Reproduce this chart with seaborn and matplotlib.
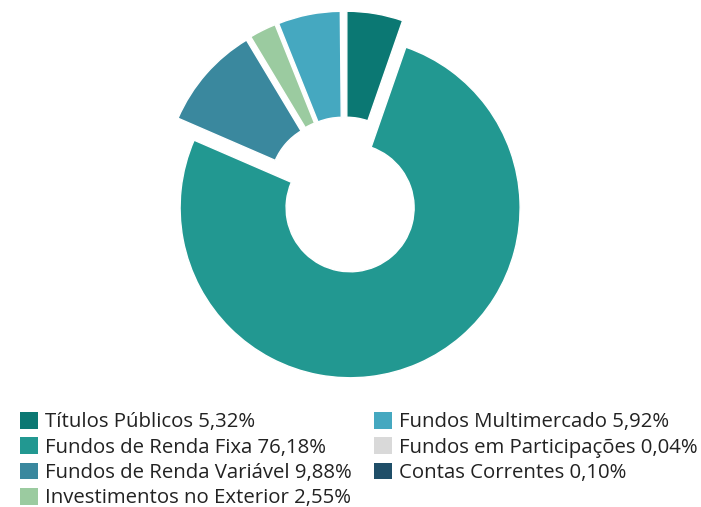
import matplotlib
matplotlib.use("Agg")
import matplotlib.pyplot as plt
from matplotlib.patches import Patch
import seaborn as sns

categories = ["Títulos Públicos", "Fundos de Renda Fixa", "Fundos de Renda Variável",
              "Investimentos no Exterior", "Fundos Multimercado", "Fundos em Participações",
              "Contas Correntes"]
values = [5.32, 76.18, 9.88, 2.55, 5.92, 0.04, 0.10]
value_labels = ["5,32%", "76,18%", "9,88%", "2,55%", "5,92%", "0,04%", "0,10%"]
colors = ["#0B7873", "#229891", "#3A889E", "#9BCBA0", "#45A8C0", "#D9D9D9", "#1F4E68"]

sns.set_theme(style="white")
plt.rcParams["font.family"] = ["Open Sans", "DejaVu Sans"]

W, H = 701, 507
fig = plt.figure(figsize=(W / 100, H / 100), dpi=100)

R = 170.0
cx, cy = 344.5, 195.0
lim = 1.15
size = 2 * lim * R
ax = fig.add_axes([(cx - size / 2) / W, (H - cy - size / 2) / H, size / W, size / H])
ax.pie(values, colors=colors, startangle=90, counterclock=False,
       explode=[0.082] * len(values), radius=1.0,
       wedgeprops=dict(width=(170 - 64) / 170, edgecolor="white", linewidth=1))
ax.set_xlim(-lim, lim)
ax.set_ylim(-lim, lim)
ax.set_aspect("equal")
ax.axis("off")

labels = [f"{c} {v}" for c, v in zip(categories, value_labels)]
handles = [Patch(facecolor=col, edgecolor="none") for col in colors]

fs = 14.7
fs_px = fs * 100 / 72
common = dict(frameon=False, fontsize=fs, handlelength=18 / fs_px, handleheight=18 / fs_px,
              handletextpad=0.33, labelspacing=0.24, borderpad=0, borderaxespad=0,
              loc="upper left")
top = 1 - 412 / H
leg1 = fig.legend(handles[:4], labels[:4], bbox_to_anchor=(20 / W, top), **common)
leg2 = fig.legend(handles[4:], labels[4:], bbox_to_anchor=(374 / W, top), **common)
for leg in (leg1, leg2):
    for t in leg.get_texts():
        t.set_color("#222222")

fig.savefig("out.png", dpi=100)
